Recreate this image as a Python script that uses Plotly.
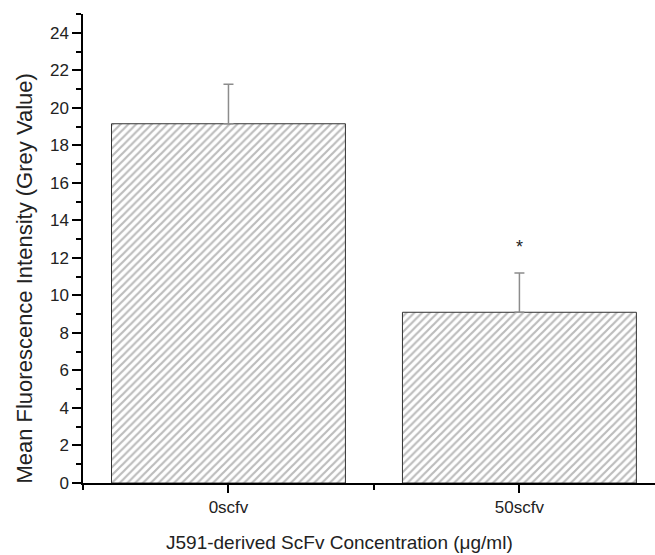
import plotly.graph_objects as go

categories = ["0scfv", "50scfv"]
cat_pos = [0, 1]
means = [19.15, 9.1]
errors_up = [2.1, 2.1]
sig_marks = ["", "*"]
sig_y = [None, 12.6]
y_ticks = list(range(0, 25, 2))

FONT = "Liberation Sans, Arial, sans-serif"

fig = go.Figure()
fig.add_trace(go.Bar(
    x=cat_pos, y=means, width=0.804,
    marker=dict(
        color="white",
        line=dict(color="#333333", width=1),
        pattern=dict(shape="/", size=5.5, solidity=0.4, fgcolor="#7a7a7a", bgcolor="white"),
    ),
    error_y=dict(type="data", symmetric=False, array=errors_up,
                 arrayminus=[0] * len(errors_up),
                 color="#8c8c8c", thickness=1.5, width=5),
    showlegend=False,
))

for xp, m, yy in zip(cat_pos, sig_marks, sig_y):
    if m:
        fig.add_annotation(x=xp, y=yy, text=m, showarrow=False,
                           font=dict(family=FONT, size=18, color="#222"),
                           xanchor="center", yanchor="middle")

fig.add_annotation(xref="paper", yref="paper", x=-0.103, y=0.436,
                   text="Mean Fluorescence Intensity (Grey Value)", textangle=-90,
                   showarrow=False, xanchor="center", yanchor="middle",
                   font=dict(family=FONT, size=22, color="#222"))
fig.add_annotation(xref="paper", yref="paper", x=0.449, y=-0.126,
                   text="J591-derived ScFv Concentration (\u03bcg/ml)",
                   showarrow=False, xanchor="center", yanchor="middle",
                   font=dict(family=FONT, size=19, color="#222"))

fig.update_layout(
    width=655, height=555,
    margin=dict(l=83, r=0, t=14, b=72),
    paper_bgcolor="white", plot_bgcolor="white",
    font=dict(family=FONT, size=17, color="#222"),
    xaxis=dict(
        range=[-0.5, 1.466], tickmode="array", tickvals=cat_pos, ticktext=categories,
        showline=True, linecolor="black", linewidth=1.5,
        ticks="outside", ticklen=8, tickwidth=1.5, tickcolor="black",
        minor=dict(tickmode="array", tickvals=[-0.5, 0.5, 1.5], ticklen=5,
                   tickwidth=1.5, tickcolor="black", ticks="outside"),
        showgrid=False, zeroline=False, fixedrange=True,
        tickfont=dict(size=17),
    ),
    yaxis=dict(
        range=[0, 25], tickmode="array", tickvals=y_ticks,
        showline=True, linecolor="black", linewidth=1.5,
        ticks="outside", ticklen=9, tickwidth=1.5, tickcolor="black",
        minor=dict(dtick=1, tick0=0, ticklen=5, tickwidth=1.5, tickcolor="black",
                   ticks="outside"),
        showgrid=False, zeroline=False, fixedrange=True,
        tickfont=dict(size=17),
    ),
)

fig.write_html("out.html")
